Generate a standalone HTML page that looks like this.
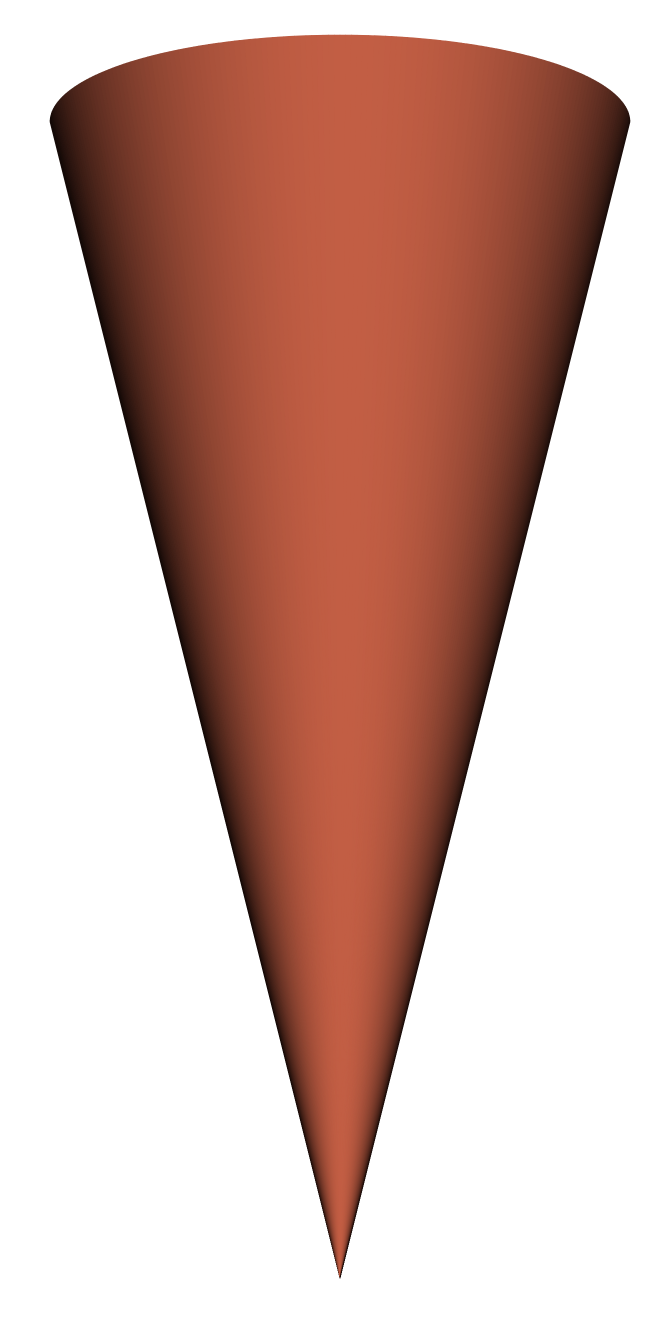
<!DOCTYPE html>
<html><head><meta charset="utf-8"><style>html,body{margin:0;padding:0;background:#fff}svg{display:block}</style></head>
<body>
<svg id="chart" width="672" height="1320" viewBox="0 0 672 1320"></svg>
<script>
const baseColor = [194, 94, 68];
const rimCenter = [340, 122];
const rimRadius = [290, 87];
const tipPoint = [340, 1278];
const facetCount = [160];
const svg = document.getElementById('chart');
const NS = 'http://www.w3.org/2000/svg';
const n = facetCount[0];
function colorFor(t){
  const s = Math.max(0, Math.abs(Math.sin(t - 0.05)));
  const f = 0.1 + 0.9*Math.pow(s, 1.1);
  const c = baseColor.map(v => Math.round(v*f));
  return 'rgb('+c.join(',')+')';
}
function pt(t){ return [rimCenter[0]+rimRadius[0]*Math.cos(t), rimCenter[1]+rimRadius[1]*Math.sin(t)]; }
const g = document.createElementNS(NS,'g');


svg.appendChild(g);
for(let i=0;i<n;i++){
  const t0 = Math.PI + Math.PI*i/n, t1 = Math.PI + Math.PI*(i+1)/n;
  const a = pt(t0), b = pt(t1);
  const p = document.createElementNS(NS,'polygon');
  p.setAttribute('points', a.join(',')+' '+b.join(',')+' '+tipPoint.join(','));
  const col = colorFor((t0+t1)/2);
  p.setAttribute('fill', col);
  p.setAttribute('stroke', col);
  p.setAttribute('stroke-width', '0.6');
  
  
  g.appendChild(p);
}
</script>
</body></html>
